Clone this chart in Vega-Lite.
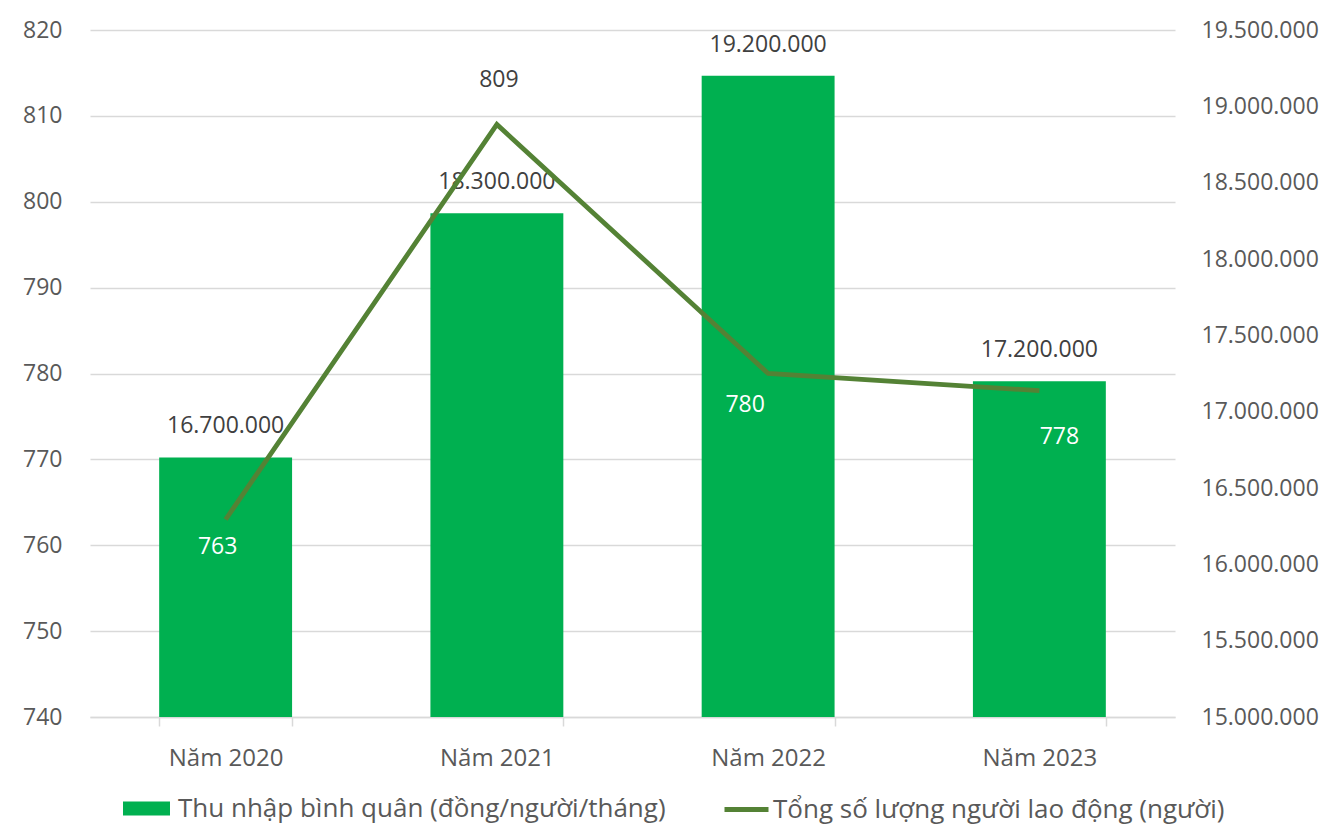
{
  "$schema": "https://vega.github.io/schema/vega-lite/v6.json",
  "width": 1085,
  "height": 687,
  "autosize": {"type": "none"},
  "padding": {"left": 90, "top": 30, "right": 157, "bottom": 109},
  "background": "white",
  "config": {
    "locale": {"number": {"decimal": ",", "thousands": ".", "grouping": [3], "currency": ["", " ₫"]}},
    "font": "Open Sans",
    "view": {"stroke": null},
    "axis": {"labelFont": "Open Sans", "labelColor": "#595959", "labelFontSize": 23},
    "legend": {"labelFont": "Open Sans", "labelColor": "#595959", "labelFontSize": 26, "padding": 0, "labelLimit": 800}
  },
  "data": {
    "values": [
      {"year": "Năm 2020", "income": 16700000, "workers": 763},
      {"year": "Năm 2021", "income": 18300000, "workers": 809},
      {"year": "Năm 2022", "income": 19200000, "workers": 780},
      {"year": "Năm 2023", "income": 17200000, "workers": 778}
    ]
  },
  "layer": [
    {
      "encoding": {
        "x": {
          "field": "year", "type": "nominal", "sort": null,
          "scale": {"paddingInner": 0.51, "paddingOuter": 0.255},
          "axis": {
            "title": null, "labelAngle": 0, "domainColor": "#d9d9d9", "domainWidth": 1.5,
            "tickColor": "#d9d9d9", "tickWidth": 1.5, "tickSize": 9, "tickBand": "extent",
            "labelPadding": 20, "labelFontSize": 24, "labelColor": "#595959", "orient": "bottom"
          }
        },
        "y": {
          "field": "income", "type": "quantitative",
          "scale": {"domain": [15000000, 19500000], "nice": false, "zero": false},
          "axis": {
            "orient": "right", "title": null, "grid": false, "domain": false, "ticks": false,
            "values": [15000000, 15500000, 16000000, 16500000, 17000000, 17500000, 18000000, 18500000, 19000000, 19500000],
            "format": ",d", "labelPadding": 26
          }
        }
      },
      "layer": [
        {
          "mark": {"type": "bar", "color": "#00B050", "clip": true},
          "encoding": {
            "color": {
              "datum": "Thu nhập bình quân (đồng/người/tháng)",
              "type": "nominal",
              "scale": {"range": ["#00B050"]},
              "legend": {
                "title": null, "orient": "none", "legendX": 33, "legendY": 755,
                "symbolType": "M-1,-0.3H1V0.3H-1Z", "symbolSize": 2209,
                "symbolStrokeWidth": 0, "labelOffset": 8
              }
            }
          }
        },
        {
          "mark": {"type": "text", "baseline": "middle", "dy": -31, "fontSize": 23, "color": "#404040", "font": "Open Sans"},
          "encoding": {"text": {"field": "income", "type": "quantitative", "format": ",d"}}
        }
      ]
    },
    {
      "encoding": {
        "x": {"field": "year", "type": "nominal", "sort": null},
        "y": {
          "field": "workers", "type": "quantitative",
          "scale": {"domain": [740, 820], "nice": false, "zero": false},
          "axis": {
            "orient": "left", "title": null, "grid": true, "gridColor": "#d9d9d9", "gridWidth": 1.5,
            "domain": false, "ticks": false, "values": [740, 750, 760, 770, 780, 790, 800, 810, 820],
            "labelPadding": 28
          }
        }
      },
      "layer": [
        {
          "mark": {"type": "line", "strokeWidth": 4.8, "strokeJoin": "miter"},
          "encoding": {
            "stroke": {
              "datum": "Tổng số lượng người lao động (người)",
              "type": "nominal",
              "scale": {"range": ["#548235"]},
              "legend": {
                "title": null, "orient": "none", "legendX": 632, "legendY": 755,
                "symbolType": "M-1,0H1", "symbolSize": 1936,
                "symbolStrokeWidth": 5, "labelOffset": 2
              }
            }
          }
        },
        {
          "transform": [{"filter": "datum.year == 'Năm 2020'"}],
          "mark": {"type": "text", "baseline": "middle", "dx": -8, "dy": 28, "fontSize": 23, "color": "white", "font": "Open Sans"},
          "encoding": {"text": {"field": "workers", "type": "quantitative"}}
        },
        {
          "transform": [{"filter": "datum.year == 'Năm 2021'"}],
          "mark": {"type": "text", "baseline": "middle", "dx": 2, "dy": -44, "fontSize": 23, "color": "#404040", "font": "Open Sans"},
          "encoding": {"text": {"field": "workers", "type": "quantitative"}}
        },
        {
          "transform": [{"filter": "datum.year == 'Năm 2022'"}],
          "mark": {"type": "text", "baseline": "middle", "dx": -23, "dy": 31, "fontSize": 23, "color": "white", "font": "Open Sans"},
          "encoding": {"text": {"field": "workers", "type": "quantitative"}}
        },
        {
          "transform": [{"filter": "datum.year == 'Năm 2023'"}],
          "mark": {"type": "text", "baseline": "middle", "dx": 20, "dy": 46, "fontSize": 23, "color": "white", "font": "Open Sans"},
          "encoding": {"text": {"field": "workers", "type": "quantitative"}}
        }
      ]
    }
  ],
  "resolve": {"scale": {"y": "independent", "color": "independent", "stroke": "independent"}}
}
